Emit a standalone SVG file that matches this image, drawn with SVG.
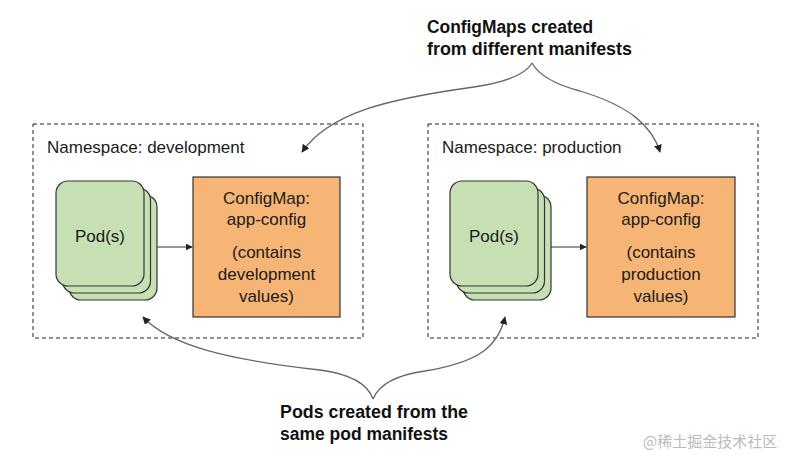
<svg xmlns="http://www.w3.org/2000/svg" width="800" height="460" viewBox="0 0 800 460">
<style>
.ns{fill:none;stroke:#222;stroke-width:1;stroke-dasharray:4,3}
.pod{fill:#c6e0b4;stroke:#333;stroke-width:1.2}
.cm{fill:#f6b574;stroke:#333;stroke-width:1.2}
.t{font-family:"Liberation Sans",Arial,sans-serif;font-size:17px;fill:#1a1a1a}
.c{text-anchor:middle}
.b{font-family:"Liberation Sans",Arial,sans-serif;font-size:18px;font-weight:bold;fill:#111}
.curve{fill:none;stroke:#666;stroke-width:1.3}
.link{fill:none;stroke:#333;stroke-width:1}
.wm{font-family:"Noto Sans CJK SC","Liberation Sans",sans-serif;font-size:15px;fill:#bbb}
</style>
<defs>
<marker id="ah" viewBox="0 0 10 10" refX="9" refY="5" markerWidth="8" markerHeight="8" markerUnits="userSpaceOnUse" orient="auto">
<path d="M0,0 L10,5 L0,10 z" fill="#222"/>
</marker>
<marker id="as" viewBox="0 0 10 10" refX="9" refY="5" markerWidth="7" markerHeight="7" markerUnits="userSpaceOnUse" orient="auto">
<path d="M0,0 L10,5 L0,10 z" fill="#222"/>
</marker>
</defs>
<rect width="800" height="460" fill="#fff"/>

<g id="ns-development">
<rect class="ns" x="33" y="124" width="330" height="214"/>
<text class="t" x="47" y="153">Namespace: development</text>
</g>
<g id="ns-production">
<rect class="ns" x="428" y="124" width="330" height="214"/>
<text class="t" x="442" y="153">Namespace: production</text>
</g>

<g id="pods-development">
<rect class="pod" x="69" y="195" width="88" height="105" rx="12"/>
<rect class="pod" x="62.5" y="188" width="88" height="105" rx="12"/>
<rect class="pod" x="56" y="181" width="88" height="105" rx="12"/>
<text class="t c" x="100" y="242">Pod(s)</text>
</g>
<g id="configmap-development">
<rect class="cm" x="193" y="177" width="147" height="140"/>
<text class="t c" x="266.5" y="204">ConfigMap:</text>
<text class="t c" x="266.5" y="225">app-config</text>
<text class="t c" x="266.5" y="258">(contains</text>
<text class="t c" x="266.5" y="280">development</text>
<text class="t c" x="266.5" y="302">values)</text>
</g>

<g id="pods-production">
<rect class="pod" x="463" y="195" width="88" height="105" rx="12"/>
<rect class="pod" x="456.5" y="188" width="88" height="105" rx="12"/>
<rect class="pod" x="450" y="181" width="88" height="105" rx="12"/>
<text class="t c" x="494" y="242">Pod(s)</text>
</g>
<g id="configmap-production">
<rect class="cm" x="587" y="177" width="148" height="140"/>
<text class="t c" x="661" y="204">ConfigMap:</text>
<text class="t c" x="661" y="225">app-config</text>
<text class="t c" x="661" y="258">(contains</text>
<text class="t c" x="661" y="280">production</text>
<text class="t c" x="661" y="302">values)</text>
</g>

<g id="label-configmaps">
<text class="b" x="427" y="33" textLength="166" lengthAdjust="spacingAndGlyphs">ConfigMaps created</text>
<text class="b" x="427" y="55" textLength="205" lengthAdjust="spacingAndGlyphs">from different manifests</text>
</g>
<g id="label-pods">
<text class="b" x="280" y="418" textLength="188" lengthAdjust="spacingAndGlyphs">Pods created from the</text>
<text class="b" x="280" y="440" textLength="168" lengthAdjust="spacingAndGlyphs">same pod manifests</text>
</g>

<g id="connectors">
<line class="link" x1="157" y1="247" x2="192" y2="247" marker-end="url(#as)"/>
<line class="link" x1="551" y1="247" x2="586" y2="247" marker-end="url(#as)"/>
<path class="curve" d="M532,63 Q522,81 467,88 C390,99 330,112 302,152" marker-end="url(#ah)"/>
<path class="curve" d="M532,63 Q542,81 580,91 C630,106 652,126 660,152" marker-end="url(#ah)"/>
<path class="curve" d="M373,399 Q365,376 320,370 C230,360 170,346 143,317" marker-end="url(#ah)"/>
<path class="curve" d="M373,399 Q382,377 425,371 C480,362 498,346 505,317" marker-end="url(#ah)"/>
</g>

<text class="wm" x="643" y="447">@稀土掘金技术社区</text>
</svg>
